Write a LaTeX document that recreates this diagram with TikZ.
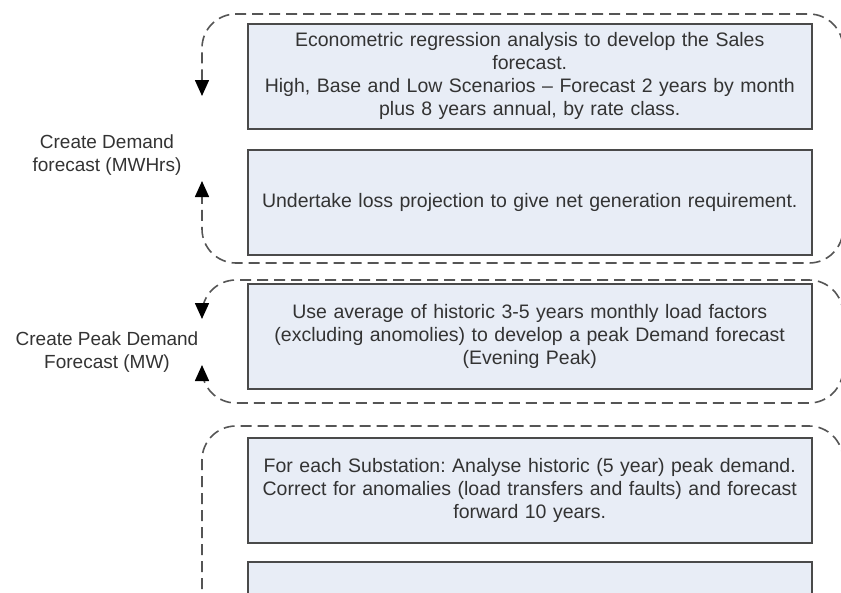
\documentclass[tikz,border=0pt]{standalone}
\usepackage{fontspec}
\setmainfont{Liberation Sans}
\usetikzlibrary{arrows.meta}

\definecolor{boxfill}{HTML}{E8EDF6}
\definecolor{boxline}{HTML}{4A4A4A}
\definecolor{txtgray}{HTML}{333333}
\definecolor{dashgray}{HTML}{555555}

\begin{document}
\begin{tikzpicture}[x=1pt, y=-1pt,
    % Define process box style
    stepbox/.style={draw=boxline, line width=1.5pt, fill=boxfill, text=txtgray,
        minimum width=564pt, minimum height=105pt, text width=560pt, align=center,
        anchor=north west, inner sep=0pt, font=\fontsize{19.5}{23}\selectfont\frenchspacing},
    % Define dashed group frame styles
    frame/.style={draw=dashgray, line width=1.6pt, dash pattern=on 11pt off 6pt, rounded corners=34pt},
    loop arrows/.style={{Triangle[length=16pt,width=14pt,color=black]}-{Triangle[length=16pt,width=14pt,color=black]}},
    sidelabel/.style={align=center, text=txtgray, font=\fontsize{19}{23}\selectfont}
]

% Page size
\useasboundingbox (0,0) rectangle (841,592);
\clip (0,0) rectangle (841,592);

% Common frame limits
\def\fleft{202}
\def\fright{843}

% Group 1: demand forecast (MWHrs)
\draw[frame, loop arrows] (\fleft,96) -- (\fleft,14) -- (\fright,14) -- (\fright,263) -- (\fleft,263) -- (\fleft,181);
\node[stepbox] (sales) at (247,23) {Econometric regression analysis to develop the Sales\\forecast.\\
    High, Base and Low Scenarios -- Forecast 2 years by month\\plus 8 years annual, by rate class.};
\node[stepbox] (loss) at (247,149) {Undertake loss projection to give net generation requirement.};
\node[sidelabel] (demand) at (107,155) {Create Demand\\forecast (MWHrs)};

% Group 2: peak demand forecast (MW)
\draw[frame, loop arrows] (\fleft,319) -- (\fleft,280) -- (\fright,280) -- (\fright,403) -- (\fleft,403) -- (\fleft,365);
\node[stepbox] (peak) at (247,283) {Use average of historic 3-5 years monthly load factors\\(excluding anomolies) to develop a peak Demand forecast\\(Evening Peak)};
\node[sidelabel] (peaklabel) at (107,352) {Create Peak Demand\\Forecast (MW)};

% Group 3: substation forecast (continues below)
\draw[frame] (\fleft,640) -- (\fleft,426) -- (\fright,426) -- (\fright,640);
\node[stepbox] (subst) at (247,437) {For each Substation: Analyse historic (5 year) peak demand.\\Correct for anomalies (load transfers and faults) and forecast\\forward 10 years.};
\node[stepbox] (next) at (247,561) {};

\end{tikzpicture}
\end{document}
